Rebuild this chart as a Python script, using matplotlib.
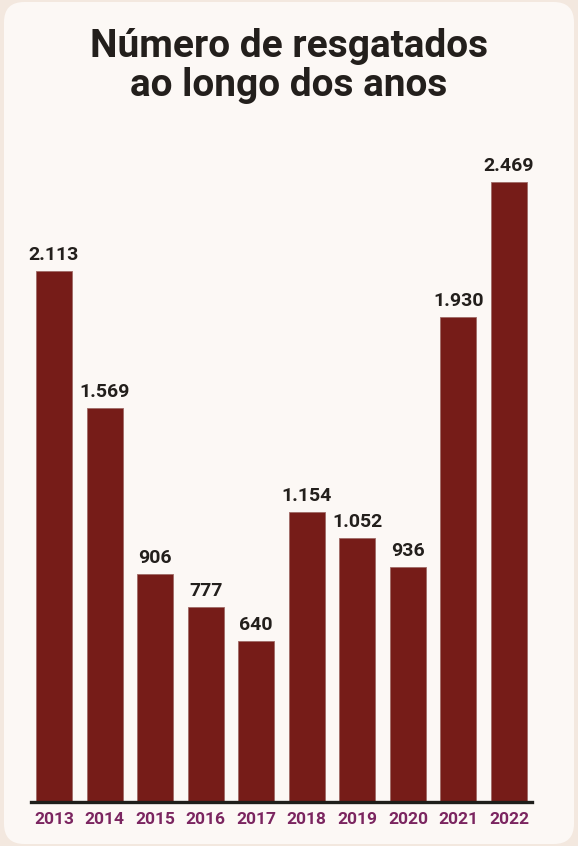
import matplotlib.pyplot as plt
from matplotlib.patches import FancyBboxPatch

# dados
anos = ['2013', '2014', '2015', '2016', '2017', '2018', '2019', '2020', '2021', '2022']
resgatados = [2113, 1569, 906, 777, 640, 1154, 1052, 936, 1930, 2469]
rotulos = ['2.113', '1.569', '906', '777', '640', '1.154', '1.052', '936', '1.930', '2.469']

titulo = 'Número de resgatados\nao longo dos anos'

cor_barra = '#761c18'
cor_ano = '#7b2560'
cor_texto = '#231f1c'
cor_fundo = '#fcf8f5'
cor_fora = '#f3e8df'

fonte = ['Roboto', 'DejaVu Sans']
plt.rcParams['font.family'] = fonte

W, H = 578, 846
fig = plt.figure(figsize=(W / 100, H / 100), dpi=100)
fig.patch.set_facecolor(cor_fora)

# cartao arredondado
card = FancyBboxPatch((4 / W, 2 / H), (W - 8) / W, (H - 4) / H,
                      boxstyle='round,pad=0,rounding_size=0.035',
                      transform=fig.transFigure, facecolor=cor_fundo,
                      edgecolor='none', mutation_aspect=W / H, zorder=-10)
fig.patches.append(card)

ymax = 2700
base = 802
escala = 0.2512
altura = ymax * escala
ax = fig.add_axes([31 / W, (H - base) / H, 500.5 / W, altura / H])
ax.set_facecolor('none')
ax.set_zorder(5)

x = list(range(len(anos)))
ax.bar(x, resgatados, width=0.712, color=cor_barra, edgecolor='#a06a66',
       linewidth=0.6, zorder=2)

for xi, v, r in zip(x, resgatados, rotulos):
    ax.annotate(r, (xi, v), xytext=(0, 5), textcoords='offset points',
                ha='center', va='bottom', fontsize=14, fontweight='bold',
                color=cor_texto)

ax.set_xlim(-0.455, 9.445)
ax.set_ylim(0, ymax)
ax.axhline(0, color='#1e1e1a', linewidth=2.4, zorder=4, clip_on=False)

for s in ax.spines.values():
    s.set_visible(False)
ax.set_yticks([])
ax.set_xticks(x)
ax.set_xticklabels(anos, fontsize=12.5, fontweight='bold', color=cor_ano)
ax.tick_params(axis='x', length=0, pad=7)

fig.text(0.5, (H - 66) / H, titulo, ha='center', va='center',
         fontsize=28, fontweight='bold', color=cor_texto, linespacing=1.1)

fig.savefig('out.png', dpi=100, facecolor=fig.get_facecolor())
